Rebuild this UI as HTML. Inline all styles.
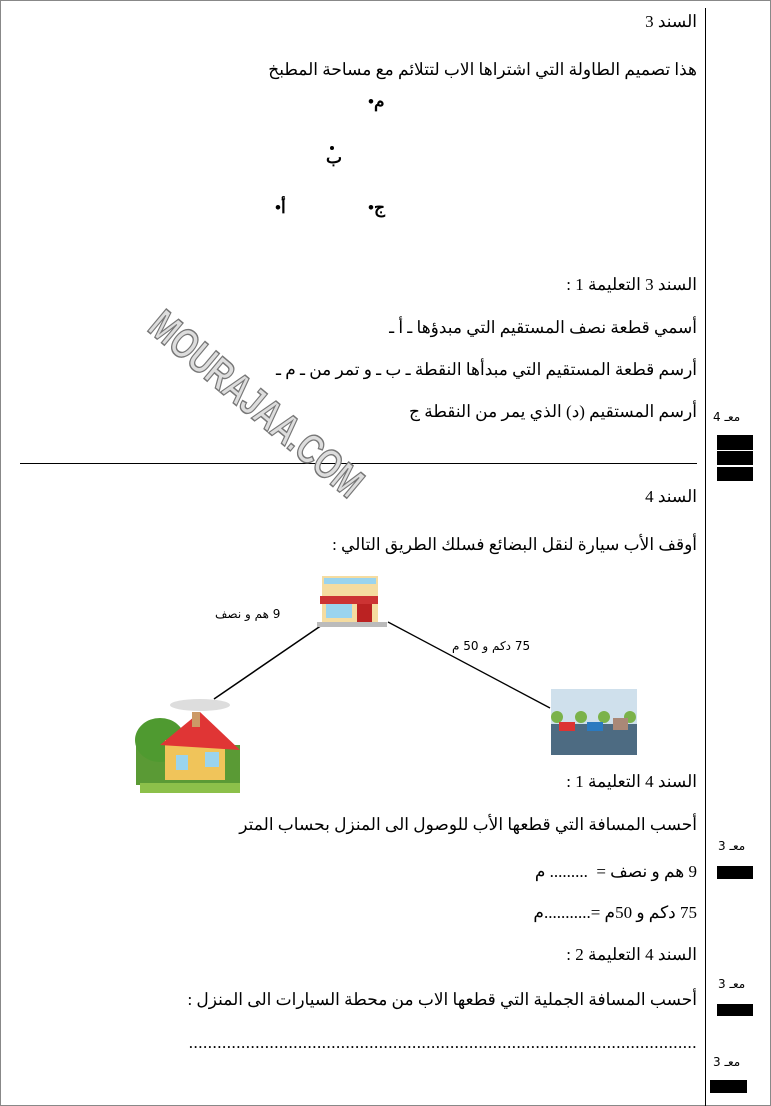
<!DOCTYPE html>
<html><head><meta charset="utf-8"><style>
body{margin:0;width:771px;height:1106px;position:relative;background:#fff;overflow:hidden;font-family:"Liberation Serif","Noto Sans CJK SC",serif;}
.frame{position:absolute;left:0;top:0;width:769px;height:1104px;border:1px solid #888;}
.t{position:absolute;right:74px;direction:rtl;font-size:17px;white-space:nowrap;line-height:20px;color:#000}
.a{position:absolute;direction:rtl;white-space:nowrap;font-size:17px;font-weight:bold}
.s{position:absolute;font-size:12px;direction:rtl;white-space:nowrap;font-family:"DejaVu Sans",sans-serif}
.box{position:absolute;background:#000}
.wm{position:absolute;left:155px;top:295px;font-family:"Liberation Sans",sans-serif;font-weight:bold;font-size:42px;color:#ddd;-webkit-text-stroke:1.5px #777;transform:rotate(40deg) scaleX(0.75);transform-origin:left center;letter-spacing:0px}
</style></head><body>
<div class="frame"></div>
<div style="position:absolute;left:705px;top:8px;width:1px;height:1098px;background:#000"></div>
<div style="position:absolute;left:20px;top:463px;width:677px;height:1px;background:#000"></div>

<div class="t" style="top:12px">السند 3</div>
<div class="t" style="top:60px">هذا تصميم الطاولة التي اشتراها الاب لتتلائم مع مساحة المطبخ</div>
<div class="a" style="left:368px;top:92px">م•</div>
<div class="a" style="left:326px;top:148px">ب</div>
<div style="position:absolute;left:330px;top:146px;width:4px;height:4px;border-radius:2px;background:#000"></div>
<div class="a" style="left:368px;top:198px">ج•</div>
<div class="a" style="left:275px;top:198px">أ•</div>
<div class="t" style="top:275px">السند 3 التعليمة 1 :</div>
<div class="t" style="top:318px">أسمي قطعة نصف المستقيم التي مبدؤها ـ أ ـ</div>
<div class="t" style="top:360px">أرسم قطعة المستقيم التي مبدأها النقطة ـ ب ـ و تمر من ـ م ـ</div>
<div class="t" style="top:402px">أرسم المستقيم (د) الذي يمر من النقطة ج</div>
<div class="s" style="left:713px;top:410px">معـ 4</div>
<div class="box" style="left:717px;top:435px;width:36px;height:15px"></div>
<div class="box" style="left:717px;top:451px;width:36px;height:14px"></div>
<div class="box" style="left:717px;top:467px;width:36px;height:14px"></div>

<div class="wm">MOURAJAA.COM</div>

<div class="t" style="top:487px">السند 4</div>
<div class="t" style="top:535px">أوقف الأب سيارة لنقل البضائع فسلك الطريق التالي :</div>

<svg style="position:absolute;left:0;top:0" width="771" height="1106">
<line x1="322" y1="625" x2="214" y2="699" stroke="#000" stroke-width="1.5"/>
<line x1="388" y1="622" x2="550" y2="708" stroke="#000" stroke-width="1.3"/>
<rect x="322" y="576" width="56" height="48" fill="#f5dca0"/>
<rect x="324" y="578" width="52" height="6" fill="#9ad4ee"/>
<rect x="320" y="596" width="58" height="8" fill="#c33"/>
<rect x="326" y="604" width="26" height="14" fill="#9ad4ee"/>
<rect x="357" y="604" width="15" height="18" fill="#b22"/>
<rect x="317" y="622" width="70" height="5" fill="#bbb"/>
<rect x="551" y="689" width="86" height="66" fill="#cfe0ec"/>
<rect x="551" y="724" width="86" height="31" fill="#4d6b82"/>
<g fill="#7bb24a"><circle cx="557" cy="717" r="6"/><circle cx="581" cy="717" r="6"/><circle cx="604" cy="717" r="6"/><circle cx="630" cy="717" r="6"/></g>
<rect x="559" y="722" width="16" height="9" fill="#d33"/>
<rect x="587" y="722" width="16" height="9" fill="#2a7ac0"/>
<rect x="613" y="718" width="15" height="12" fill="#a87"/>
<rect x="136" y="745" width="104" height="40" fill="#5a9a35"/>
<ellipse cx="160" cy="740" rx="25" ry="22" fill="#4f9a30"/>
<rect x="165" y="740" width="60" height="40" fill="#f0c45a"/>
<polygon points="160,745 200,712 240,750" fill="#e03535"/>
<rect x="192" y="712" width="8" height="15" fill="#c96"/>
<ellipse cx="200" cy="705" rx="30" ry="6" fill="#ddd"/>
<rect x="176" y="755" width="12" height="15" fill="#9ad4ee"/>
<rect x="205" y="752" width="14" height="15" fill="#9ad4ee"/>
<rect x="140" y="783" width="100" height="10" fill="#8cc04a"/>
</svg>
<div class="s" style="left:215px;top:607px">9 هم و نصف</div>
<div class="s" style="left:452px;top:639px">75 دكم و 50 م</div>

<div class="t" style="top:772px">السند 4 التعليمة 1 :</div>
<div class="t" style="top:815px">أحسب المسافة التي قطعها الأب للوصول الى المنزل بحساب المتر</div>
<div class="s" style="left:718px;top:839px">معـ 3</div>
<div class="box" style="left:717px;top:866px;width:36px;height:13px"></div>
<div class="t" style="top:862px">9 هم و نصف =&nbsp; ......... م</div>
<div class="t" style="top:903px">75 دكم و 50م =...........م</div>
<div class="t" style="top:945px">السند 4 التعليمة 2 :</div>
<div class="s" style="left:718px;top:977px">معـ 3</div>
<div class="t" style="top:990px">أحسب المسافة الجملية التي قطعها الاب من محطة السيارات الى المنزل :</div>
<div class="box" style="left:717px;top:1004px;width:36px;height:12px"></div>
<div class="t" style="top:1033px;letter-spacing:0.5px">...........................................................................................................</div>
<div class="s" style="left:713px;top:1055px">معـ 3</div>
<div class="box" style="left:710px;top:1080px;width:37px;height:13px"></div>
</body></html>
